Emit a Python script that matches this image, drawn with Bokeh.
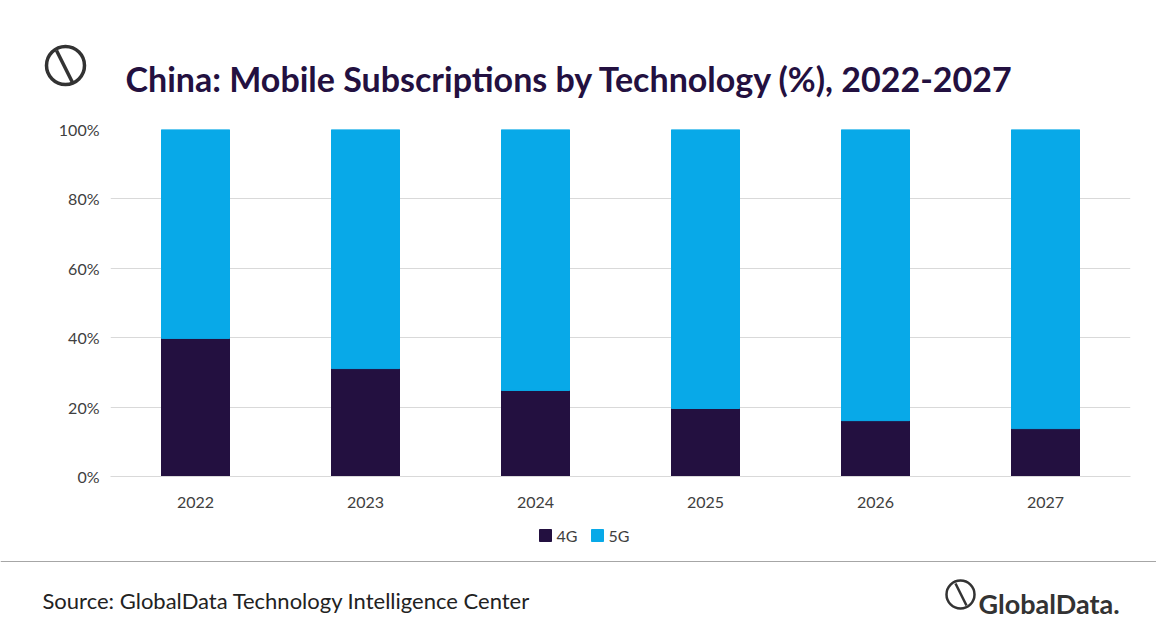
from bokeh.embed import file_html
from bokeh.resources import INLINE
from bokeh.plotting import figure
from bokeh.core.properties import value
from bokeh.models import (ColumnDataSource, Range1d, FixedTicker, CustomJSTickFormatter)

years = ['2022', '2023', '2024', '2025', '2026', '2027']
share_4g = [39.8, 31.1, 24.8, 19.6, 16.1, 13.8]
share_5g = [100 - v for v in share_4g]
y_ticks = [0, 20, 40, 60, 80, 100]
series = ['4G', '5G']

FONT = "Lato"
DARK = "#231040"
BLUE = "#08a9e8"
W = 1156


def blank(height, top):
    # a figure whose data coordinates equal page pixels (y grows downward)
    f = figure(frame_width=W, frame_height=height, x_range=Range1d(0, W),
               y_range=Range1d(top + height, top), output_backend="svg",
               toolbar_location=None, x_axis_location=None, y_axis_location=None,
               min_border_left=0, min_border_right=0, min_border_top=0,
               min_border_bottom=0)
    f.grid.visible = False
    f.outline_line_color = None
    return f


# header
head = blank(100, 0)
head.scatter([65], [65], size=38, fill_color=None, line_color="#333333", line_width=3.5)
head.segment([56], [50], [72], [82], line_color="#333333", line_width=3.5)
head.text([125], [78], text=["China: Mobile Subscriptions by Technology (%), 2022-2027"],
          text_font=value(FONT), text_font_style="bold", text_font_size="34px",
          text_color=DARK, text_baseline="alphabetic")

# chart
source = ColumnDataSource(data=dict(year=years, g4=share_4g, g5=share_5g))
p = figure(x_range=years, y_range=(0, 100), frame_width=1020, frame_height=347,
           output_backend="svg", toolbar_location=None,
           min_border_left=110, min_border_right=26,
           min_border_top=29, min_border_bottom=45)
p.vbar_stack(['g4', 'g5'], x='year', width=0.4, color=[DARK, BLUE], source=source)

p.outline_line_color = None
p.xgrid.grid_line_color = None
p.ygrid.grid_line_color = "#d9d9d9"
p.yaxis.ticker = FixedTicker(ticks=y_ticks)
p.yaxis.formatter = CustomJSTickFormatter(code="return tick + '%'")
for ax in (p.xaxis, p.yaxis):
    ax.axis_line_color = None
    ax.major_tick_line_color = None
    ax.minor_tick_line_color = None
    ax.major_label_text_font = FONT
    ax.major_label_text_font_size = "16px"
    ax.major_label_text_color = "#404040"
p.xaxis.axis_line_color = "#d9d9d9"
p.xaxis.major_label_standoff = 14

# footer with legend
foot = blank(99, 521)
foot.scatter([545, 597], [535, 535], marker="square", size=12, color=[DARK, BLUE])
foot.text([556, 608], [535, 535], text=series, text_font=value(FONT),
          text_font_size="16px", text_color="#404040", text_baseline="middle")
foot.segment([0], [561], [W], [561], line_color="#a6a6a6", line_width=1)
foot.text([42], [600], text=["Source: GlobalData Technology Intelligence Center"],
          text_font=value(FONT), text_font_size="22px", text_color="#222222",
          text_baseline="alphabetic")
foot.scatter([960], [594], size=28, fill_color=None, line_color="#333333", line_width=2.5)
foot.segment([955], [583], [966], [605], line_color="#333333", line_width=2.5)
foot.text([978], [603], text=["GlobalData."], text_font=value(FONT),
          text_font_style="bold", text_font_size="27px", text_color="#333333",
          text_baseline="alphabetic")

open("out.html", "w").write(file_html([head, p, foot], INLINE))
